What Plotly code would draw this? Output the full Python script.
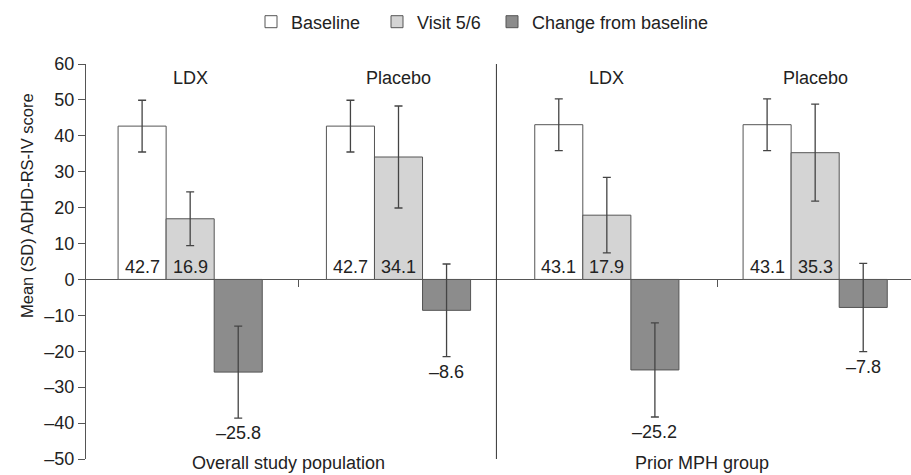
import plotly.graph_objects as go

# ---------------- data ----------------
group_x = [0, 1, 2, 3]
group_labels = ["LDX", "Placebo", "LDX", "Placebo"]
population_labels = ["Overall study population", "Prior MPH group"]
population_x = [0.5, 2.5]
series_names = ["Baseline", "Visit 5/6", "Change from baseline"]
baseline_mean = [42.7, 42.7, 43.1, 43.1]
baseline_sd = [7.2, 7.2, 7.2, 7.2]
visit_mean = [16.9, 34.1, 17.9, 35.3]
visit_sd = [7.5, 14.2, 10.5, 13.5]
change_mean = [-25.8, -8.6, -25.2, -7.8]
change_sd = [12.8, 12.9, 13.1, 12.3]
y_ticks = list(range(-50, 61, 10))

# ---------------- style ----------------
FONT = "Liberation Sans, Arial, sans-serif"
TXT = "#222222"
AX = "#555555"
FS = 18
fills = ["#ffffff", "#d4d4d4", "#8c8c8c"]
BARGAP = 0.308
bar_w = (1 - BARGAP) / 3
offsets = [-bar_w, 0.0, bar_w]
DIVIDER_X = 1.47
Y_MIN, Y_MAX = -50, 60
ML, MT, MB, W, H = 86, 64, 16, 911, 475
PW = W - ML
PH = H - MT - MB
legend_left_px = [251, 377, 492]
legend_keys = ["legend", "legend2", "legend3"]

means = [baseline_mean, visit_mean, change_mean]
sds = [baseline_sd, visit_sd, change_sd]

fig = go.Figure()
for name, m, s, c, lk in zip(series_names, means, sds, fills, legend_keys):
    fig.add_trace(go.Bar(
        x=group_x, y=m, name=name, legend=lk,
        marker=dict(color=c, line=dict(color=AX, width=1)),
        error_y=dict(type="data", array=s, visible=True, color="#444444",
                     thickness=1.3, width=4),
        hoverinfo="y",
    ))

annotations = []
# value labels
for k, (m, s) in enumerate(zip(means, sds)):
    for g, (mv, sv) in enumerate(zip(m, s)):
        lbl = f"{mv:.1f}".replace("-", "\u2013")
        xpos = group_x[g] + offsets[k]
        if mv >= 0:
            annotations.append(dict(x=xpos, y=0, xref="x", yref="y", text=lbl,
                                    showarrow=False, yanchor="bottom", yshift=0,
                                    font=dict(size=FS, color=TXT, family=FONT)))
        else:
            annotations.append(dict(x=xpos, y=mv - sv, xref="x", yref="y", text=lbl,
                                    showarrow=False, yanchor="top", yshift=-3,
                                    font=dict(size=FS, color=TXT, family=FONT)))
# group labels
for gx, gl in zip(group_x, group_labels):
    annotations.append(dict(x=gx, y=Y_MAX, xref="x", yref="y", text=gl,
                            showarrow=False, yanchor="top", yshift=-2,
                            font=dict(size=FS, color=TXT, family=FONT)))
# population labels
pop_shift = [-6, -9]
for px, pl, sh in zip(population_x, population_labels, pop_shift):
    annotations.append(dict(x=px, y=Y_MIN, xref="x", yref="y", text=pl,
                            showarrow=False, yanchor="middle", yshift=-4, xshift=sh,
                            font=dict(size=FS, color=TXT, family=FONT)))
# y-axis title
annotations.append(dict(x=(27 - ML) / PW, y=(H - MB - 206) / PH, xref="paper", yref="paper",
                        text="Mean (SD) ADHD-RS-IV score", textangle=-90,
                        showarrow=False, xanchor="center", yanchor="middle",
                        font=dict(size=16.5, color=TXT, family=FONT)))

legend_common = dict(orientation="h", xanchor="left", yanchor="middle",
                     y=1 + (MT - 22) / PH,
                     font=dict(size=FS, color=TXT, family=FONT),
                     bgcolor="rgba(0,0,0,0)")
legends = {lk: dict(legend_common, x=(lx - ML) / PW)
           for lk, lx in zip(legend_keys, legend_left_px)}

fig.update_layout(
    width=W, height=H,
    margin=dict(l=ML, r=0, t=MT, b=MB, autoexpand=False),
    paper_bgcolor="white", plot_bgcolor="white",
    barmode="group", bargap=BARGAP, bargroupgap=0,
    font=dict(family=FONT, size=FS, color=TXT),
    showlegend=True,
    xaxis=dict(range=[-0.5, 3.46], showgrid=False, zeroline=False, showline=False,
               anchor="free", position=(0 - Y_MIN) / (Y_MAX - Y_MIN),
               tickvals=[0.52, 2.53], ticks="outside", ticklen=7, tickcolor=AX,
               showticklabels=False, fixedrange=True),
    yaxis=dict(range=[Y_MIN, Y_MAX], showgrid=False, zeroline=True,
               zerolinecolor=AX, zerolinewidth=1,
               showline=True, linecolor=AX, linewidth=1,
               ticks="outside", ticklen=7, tickcolor=AX,
               tickvals=y_ticks,
               ticktext=[str(v).replace("-", "\u2013") for v in y_ticks],
               tickfont=dict(size=FS, color=TXT, family=FONT), fixedrange=True),
    annotations=annotations,
    shapes=[dict(type="line", xref="x", yref="y", x0=DIVIDER_X, x1=DIVIDER_X,
                 y0=Y_MIN, y1=Y_MAX, line=dict(color="#333333", width=1))],
    **legends,
)

fig.write_html("out.html", config={"displayModeBar": False},
               post_script="document.body.style.margin='0px';document.body.style.overflow='hidden';")
